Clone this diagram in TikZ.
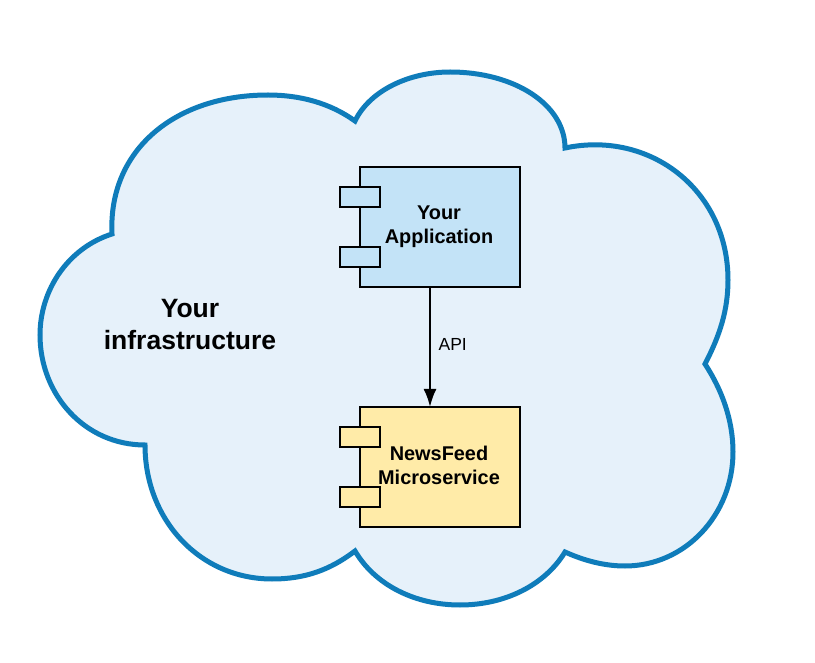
\documentclass[tikz,border=0pt]{standalone}
\usepackage{fontspec}
\setmainfont{Liberation Sans}
\usetikzlibrary{arrows.meta}
\definecolor{cloudline}{HTML}{0F7CBA}
\definecolor{cloudfill}{HTML}{E6F1FA}
\definecolor{appfill}{HTML}{C3E3F7}
\definecolor{newsfill}{HTML}{FFEBA8}
\tikzset{
  comp/.style={draw=black,line width=2.2pt,minimum width=160pt,minimum height=120pt,inner sep=0pt,outer sep=0pt},
  port/.style={draw=black,line width=2.2pt,minimum width=40pt,minimum height=20pt,inner sep=0pt,outer sep=0pt},
  title/.style={align=center,font=\bfseries\fontsize{19.9}{24}\selectfont,inner sep=0pt},
  bigtitle/.style={align=center,font=\bfseries\fontsize{26.5}{32}\selectfont,inner sep=0pt},
  label/.style={font=\fontsize{17.5}{20}\selectfont,inner sep=0pt},
  link/.style={draw=black,line width=2.2pt,-{Latex[length=18pt,width=13pt]}}
}
\begin{document}
\begin{tikzpicture}[x=1pt,y=-1pt]
\useasboundingbox (0,0) rectangle (815,663);
\fill[white] (0,0) rectangle (815,663);
\draw[draw=cloudline,fill=cloudfill,line width=5pt,line join=miter]
  (112,234) .. controls (108,150) and (175,95) .. (268,95)
  .. controls (300,95) and (330,103) .. (355,121)
  .. controls (370,90) and (410,72) .. (450,72)
  .. controls (515,72) and (565,105) .. (565,148)
  .. controls (650,130) and (728,190) .. (728,280)
  .. controls (728,310) and (720,335) .. (705,364)
  .. controls (722,390) and (733,420) .. (733,452)
  .. controls (733,515) and (685,566) .. (625,566)
  .. controls (605,566) and (585,561) .. (565,552)
  .. controls (545,585) and (505,605) .. (460,605)
  .. controls (415,605) and (375,585) .. (355,551)
  .. controls (330,570) and (305,579) .. (272,579)
  .. controls (200,579) and (145,520) .. (145,445)
  .. controls (85,445) and (40,395) .. (40,335)
  .. controls (40,290) and (68,248) .. (112,234) -- cycle;
\node[comp,fill=appfill] (app) at (440,227) {};
\node[port,fill=appfill] (appa) at (360,197) {};
\node[port,fill=appfill] (appb) at (360,257) {};
\node[title] (apptext) at (439,226.5) {Your\\Application};
\node[comp,fill=newsfill] (news) at (440,467) {};
\node[port,fill=newsfill] (newsa) at (360,437) {};
\node[port,fill=newsfill] (newsb) at (360,497) {};
\node[title] (newstext) at (439,465) {NewsFeed\\Microservice};
\node[bigtitle] (infra) at (190,324.5) {Your\\infrastructure};
\draw[link] ([xshift=-10pt]app.south) -- ([xshift=-10pt]news.north) node[pos=0.48,right=7.5pt,label] (api) {API};
\end{tikzpicture}
\end{document}
